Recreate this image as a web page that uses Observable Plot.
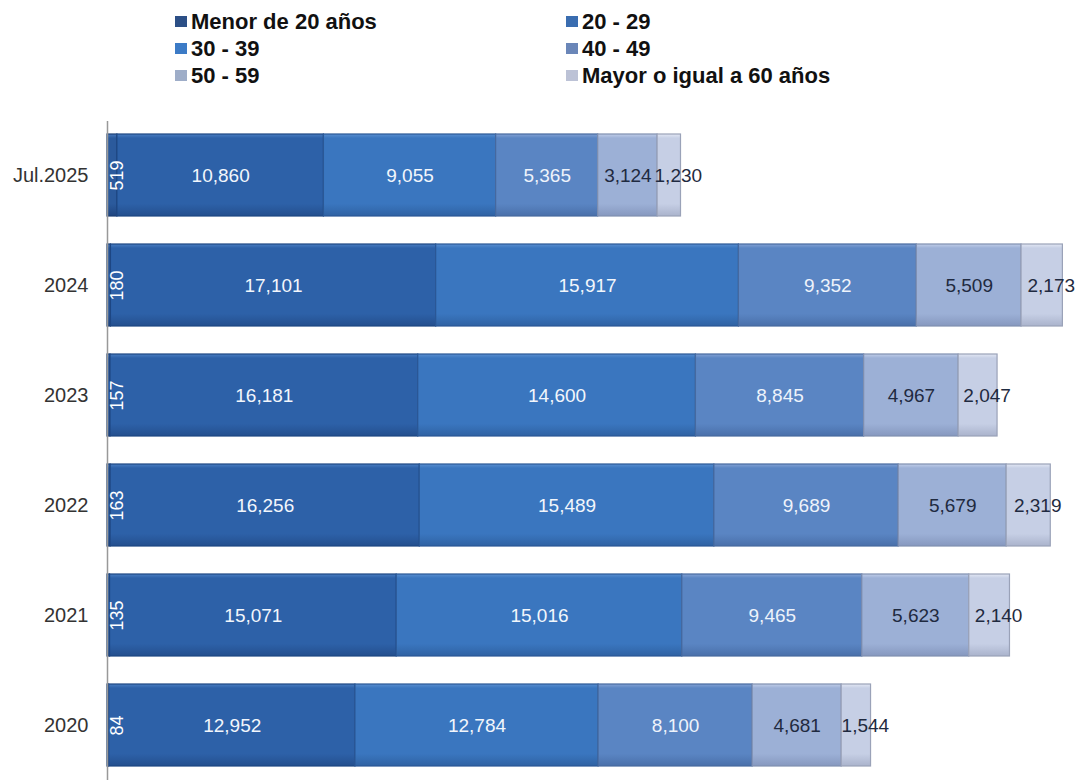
<!DOCTYPE html>
<html>
<head>
<meta charset="utf-8">
<script src="https://cdn.jsdelivr.net/npm/d3@7"></script>
<script src="https://cdn.jsdelivr.net/npm/@observablehq/plot@0.6"></script>
<style>
  html, body { margin: 0; padding: 0; background: #fff; overflow: hidden; }
  #wrap { width: 1083px; height: 780px; position: relative; font-family: "Liberation Sans", Arial, sans-serif; }
  #legend { position: relative; height: 100px; }
  .li { position: absolute; font-weight: bold; font-size: 22px; color: #111; white-space: nowrap; line-height: 26px; }
  .sw { display: inline-block; width: 12px; height: 11px; margin-right: 4px; vertical-align: 2px; }
  svg { display: block; }
</style>
</head>
<body>
<div id="wrap">
  <div id="legend"></div>
  <div id="chart"></div>
</div>
<script>
const years = ["Jul.2025", "2024", "2023", "2022", "2021", "2020"];
const ages = ["Menor de 20 años", "20 - 29", "30 - 39", "40 - 49", "50 - 59", "Mayor o igual a 60 años"];
const menor20 = [519, 180, 157, 163, 135, 84];
const a20_29 = [10860, 17101, 16181, 16256, 15071, 12952];
const a30_39 = [9055, 15917, 14600, 15489, 15016, 12784];
const a40_49 = [5365, 9352, 8845, 9689, 9465, 8100];
const a50_59 = [3124, 5509, 4967, 5679, 5623, 4681];
const mayor60 = [1230, 2173, 2047, 2319, 2140, 1544];
const series = [menor20, a20_29, a30_39, a40_49, a50_59, mayor60];

// colours: [top highlight, base, bottom, stroke]
const palette = [
  ["#4a7bbd", "#2b5a9c", "#1f4580", "#1c3f75"],
  ["#4a7ec2", "#2d61a8", "#244f8e", "#1d4683"],
  ["#5a8fd0", "#3a76bf", "#2f62a3", "#2a5896"],
  ["#83a2d4", "#5a85c3", "#4a70aa", "#46699f"],
  ["#c0cde8", "#9cb0d6", "#8698bf", "#7f8fb0"],
  ["#e2e7f3", "#c6cfe5", "#aab3cc", "#9aa2b8"]
];
const swatch = ["#2c4f86", "#3a6db0", "#3c7bc6", "#6a86b8", "#9eadc8", "#bcc2d6"];
const labelColor = ["#fff", "#f2f6fc", "#f2f6fc", "#eef3fb", "#1f2a40", "#1f2a40"];

// long table; the label position is the middle of each stacked segment
const data = [];
years.forEach((y, yi) => {
  let cum = 0;
  ages.forEach((a, ai) => {
    const v = series[ai][yi];
    data.push({year: y, age: a, ai, value: v, mid: cum + v / 2});
    cum += v;
  });
});

// legend
const legend = document.getElementById("legend");
const legendPos = [[175, 9], [566, 9], [175, 36], [566, 36], [175, 63], [566, 63]];
ages.forEach((a, i) => {
  const d = document.createElement("div");
  d.className = "li";
  d.style.left = legendPos[i][0] + "px";
  d.style.top = legendPos[i][1] + "px";
  d.innerHTML = `<span class="sw" style="background:${swatch[i]}"></span>${a}`;
  legend.appendChild(d);
});

const fmt = d3.format(",");

const chart = Plot.plot({
  width: 1083,
  height: 682,
  marginTop: 18,
  marginBottom: 0,
  marginLeft: 107,
  marginRight: 6,
  style: {fontFamily: "'Liberation Sans', Arial, sans-serif", fontSize: "20px", background: "transparent"},
  x: {domain: [0, 51000], axis: null},
  y: {domain: years, paddingInner: 0.252, paddingOuter: 0.117, label: null},
  color: {type: "identity"},
  marks: [
    Plot.barX(data, Plot.stackX({
      x: "value", y: "year", z: "age", order: ages,
      fill: d => `url(#grad${d.ai})`,
      stroke: d => palette[d.ai][3],
      strokeWidth: 1.2
    })),
    Plot.ruleX([0], {stroke: "#999", strokeWidth: 1.5, y1: () => years[0], y2: () => years[years.length - 1], insetTop: -13, insetBottom: -30}),
    Plot.text(data.filter(d => d.ai > 0 && d.ai < 5), {
      x: "mid",
      y: "year",
      text: d => fmt(d.value),
      fill: d => labelColor[d.ai],
      fontSize: 19
    }),
    Plot.text(data.filter(d => d.ai === 5), {
      x: "mid",
      y: "year",
      text: d => fmt(d.value),
      fill: labelColor[5],
      dx: 9,
      fontSize: 19
    }),
    Plot.text(data.filter(d => d.ai === 0), {
      x: d => 0,
      y: "year",
      text: d => fmt(d.value),
      rotate: -90,
      dx: 10,
      fill: "#fff",
      fontSize: 18
    }),
    Plot.axisY({tickSize: 0, tickPadding: 19, fill: "#333", fontSize: 20, label: null})
  ]
});

const svg = d3.select(chart);
const defs = svg.insert("defs", ":first-child");
palette.forEach((p, i) => {
  const g = defs.append("linearGradient").attr("id", `grad${i}`).attr("x1", 0).attr("y1", 0).attr("x2", 0).attr("y2", 1);
  g.append("stop").attr("offset", "0%").attr("stop-color", p[0]);
  g.append("stop").attr("offset", "5%").attr("stop-color", p[1]);
  g.append("stop").attr("offset", "85%").attr("stop-color", p[1]);
  g.append("stop").attr("offset", "100%").attr("stop-color", p[2]);
});

document.getElementById("chart").appendChild(chart);
</script>
</body>
</html>
